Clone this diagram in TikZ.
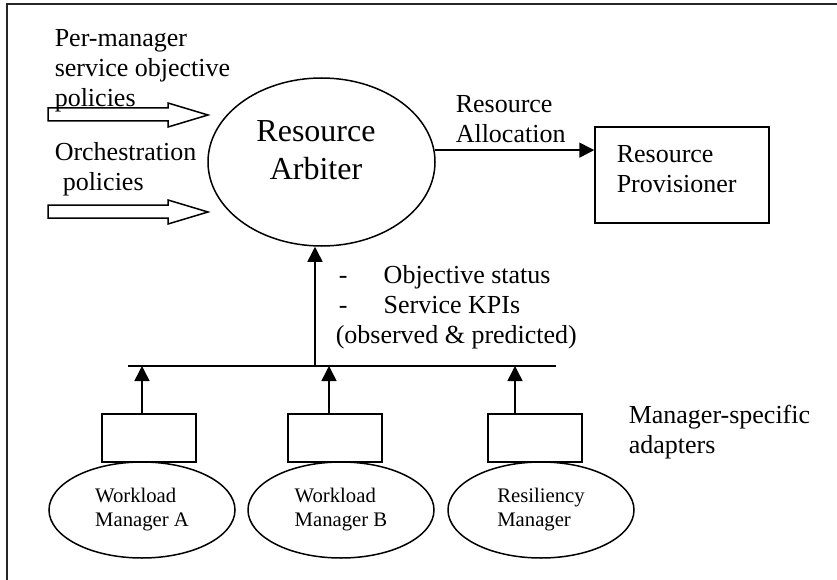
\documentclass[tikz,border=0pt]{standalone}
\usepackage{fontspec}
\setmainfont{Liberation Serif}
\usetikzlibrary{arrows.meta,shapes.geometric}
\begin{document}
\begin{tikzpicture}[x=1pt,y=-1pt,line width=1.5pt,
  txt/.style={inner sep=0pt,anchor=base west,align=left,font=\fontsize{26}{30}\selectfont},
  arr/.style={-{Triangle[length=15pt,width=15pt]}},
  hollow/.style={draw,line width=1.5pt,line join=miter},
  adapter/.style={draw,minimum width=94pt,minimum height=48pt,inner sep=0pt},
  mgr/.style={draw,ellipse,minimum width=186pt,minimum height=96pt,inner sep=0pt,align=left,font=\fontsize{20.7}{24}\selectfont}]
\useasboundingbox (0,0) rectangle (837,580);
% frame (top and left edges only)
\draw[line width=2pt,black!85] (7,580) -- (7,4.5) -- (837,4.5);
% resource arbiter
\node[draw,ellipse,minimum width=227pt,minimum height=168pt,inner sep=0pt] (arb) at (321.5,162) {};
\node[inner sep=0pt,align=center,font=\fontsize{32}{38}\selectfont] (arbt) at (316,150) {Resource\\Arbiter};
% input policies (base anchor = baseline of last line)
\node[txt] (pmt) at (54,107) {Per-manager\\service objective\\policies};
\node[txt] (ort) at (54,190) {Orchestration\\\hspace*{8pt}policies};
\draw[hollow] (48,108) -- (168,108) -- (168,103) -- (208,115) -- (168,127) -- (168,121) -- (48,121) -- cycle;
\draw[hollow] (48,205) -- (168,205) -- (168,200) -- (208,212) -- (168,224) -- (168,218) -- (48,218) -- cycle;
% resource provisioner
\node[draw,minimum width=174pt,minimum height=96pt,inner sep=0pt] (prov) at (682,175) {};
\node[txt] (provt) at (616,193) {Resource\\Provisioner};
\node[txt] (rat) at (455,143) {Resource\\Allocation};
\draw[arr] (arb.6) -- (arb.6 -| prov.west);
% status arrow
\coordinate (busL) at (128,366);
\coordinate (busR) at (556,366);
\coordinate (busM) at (315,366);
\draw (busL) -- (busR);
\draw[arr] (busM) -- (busM |- arb.south);
\node[txt] (st) at (335,343) {\makebox[48pt][l]{\hspace{3pt}-}Objective status\\\makebox[48pt][l]{\hspace{3pt}-}Service KPIs\\(observed \& predicted)};
% adapters
\node[adapter] (ad1) at (149,438) {};
\node[adapter] (ad2) at (335,438) {};
\node[adapter] (ad3) at (535,438) {};
\draw[arr] ([xshift=-7pt]ad1.north) -- ([xshift=-7pt]ad1.north |- busL);
\draw[arr] ([xshift=-6pt]ad2.north) -- ([xshift=-6pt]ad2.north |- busL);
\draw[arr] ([xshift=-20pt]ad3.north) -- ([xshift=-20pt]ad3.north |- busL);
\node[txt] (mst) at (628,453) {Manager-specific\\adapters};
% managers
\node[mgr] (m1) at (142,510) {Workload\\Manager A};
\node[mgr] (m2) at (341,510) {Workload\\Manager B};
\node[mgr] (m3) at (541,510) {Resiliency\\Manager};
\end{tikzpicture}
\end{document}
